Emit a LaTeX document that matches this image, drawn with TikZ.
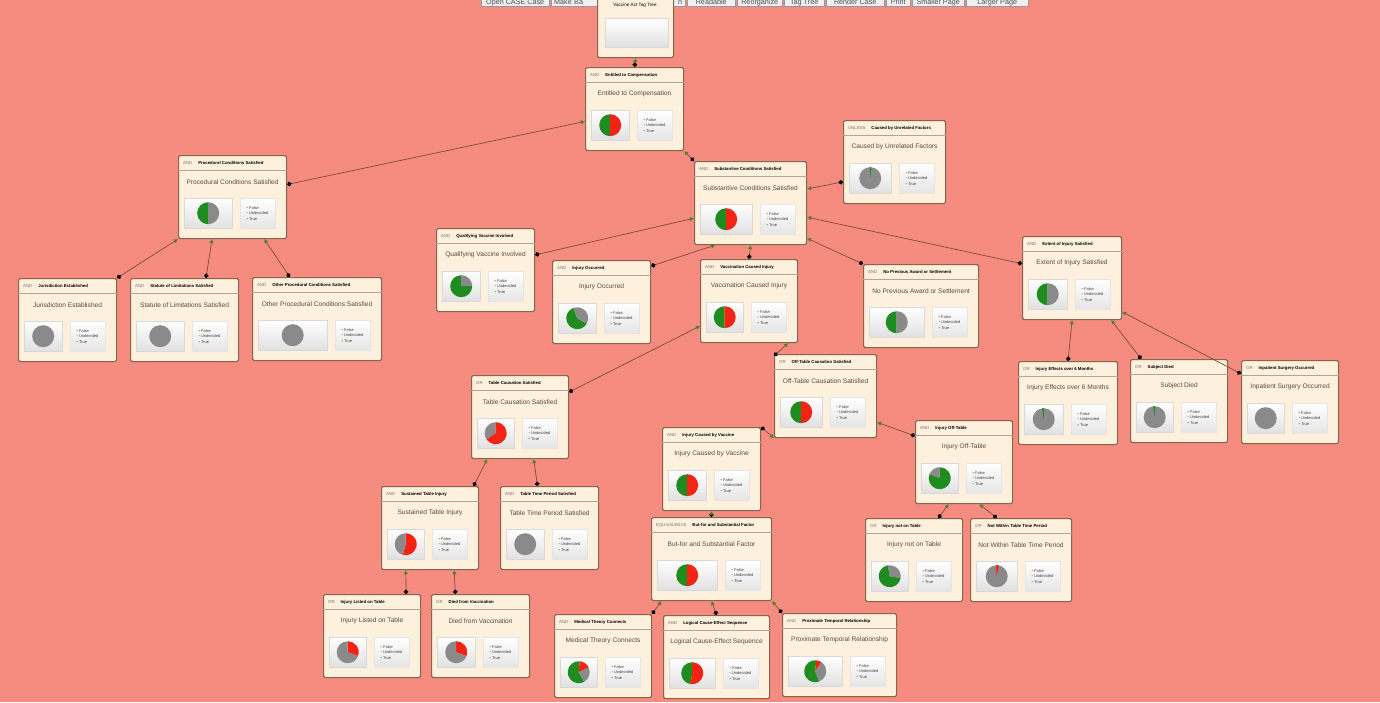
\documentclass[tikz,border=0pt]{standalone}
\usepackage{fontspec}
\setmainfont{Liberation Sans}
\usetikzlibrary{arrows.meta}

\definecolor{canvas}{RGB}{246,139,127}
\definecolor{boxfill}{RGB}{253,240,220}
\definecolor{boxline}{RGB}{135,100,75}
\definecolor{linkline}{RGB}{125,75,60}
\definecolor{truegreen}{RGB}{30,140,30}
\definecolor{falsered}{RGB}{245,35,20}
\definecolor{undecgray}{RGB}{138,138,138}
\definecolor{titlegray}{RGB}{85,75,65}
\definecolor{kindgray}{RGB}{120,110,100}
\definecolor{markgreen}{RGB}{70,130,40}

\tikzset{
  tagbox/.style={draw=boxline,line width=1.1pt,fill=boxfill,rounded corners=1.5pt,
    minimum height=83pt,anchor=north west,inner sep=0pt},
  sepline/.style={draw=boxline!60,line width=0.5pt},
  headtext/.style={anchor=west,inner sep=0pt,text=black,font=\fontsize{4.3}{5}\selectfont},
  titletext/.style={inner sep=0pt,text=titlegray,font=\fontsize{6.6}{8}\selectfont},
  piebox/.style={anchor=north west,draw=black!15,top color=white,bottom color=black!12,
    minimum height=30pt,inner sep=0pt},
  legendbox/.style={anchor=north east,draw=black!10,top color=white,bottom color=black!10,
    minimum width=35pt,minimum height=30pt,inner sep=0pt,align=left,
    font=\fontsize{4}{5.5}\selectfont,text=black!75},
  menubtn/.style={anchor=west,draw=black!40,fill=black!6,minimum height=12pt,inner sep=0pt,
    text height=8pt,text depth=0pt,font=\fontsize{7.2}{8}\selectfont,text=black!70},
  link/.style={draw=linkline,line width=0.7pt,
    {Circle[black,length=4.5pt]}-{Latex[markgreen,length=4pt,width=4.5pt]}}
}

% one box of the tag tree: name, left, top, width, kind, title, pie slices
\newcommand{\tagnode}[7]{%
  \node[tagbox,minimum width=#4pt] (#1) at (#2,#3) {};
  \draw[sepline] ([shift={(0,15)}]#1.north west) -- ([shift={(0,15)}]#1.north east);
  \node[headtext] (#1-head) at ([shift={(5,8)}]#1.north west)
    {{\color{kindgray}#5}\hspace{6pt}\textbf{#6}};
  \node[titletext] (#1-title) at ([shift={(0,27)}]#1.north) {#6};
  \node[piebox,minimum width=#4pt-60pt] (#1-pie) at ([shift={(6,43)}]#1.north west) {};
  \foreach \c/\a/\b in {#7}
    \fill[\c] (#1-pie.center) -- ++(\a:11pt) arc[start angle=\a,end angle=\b,radius=11pt] -- cycle;
  \node[legendbox] (#1-key) at ([shift={(-12,43)}]#1.north east)
    {{\color{falsered}\textbullet} False\\{\color{undecgray}\textbullet} Undecided\\{\color{truegreen}\textbullet} True};
}

\begin{document}
\begin{tikzpicture}[x=1pt,y=-1pt]
\fill[canvas] (0,0) rectangle (1380,702);
\useasboundingbox (0,0) rectangle (1380,702);

% menu bar
\node[menubtn,minimum width=68pt] (open) at (481,0) {Open CASE Case};
\node[menubtn,minimum width=134pt,text width=128pt,align=left] (make) at (551,0) {Make Ba\hfill n};
\node[menubtn,minimum width=48pt] (readable) at (687,0) {Readable};
\node[menubtn,minimum width=45pt] (reorganize) at (737,0) {Reorganize};
\node[menubtn,minimum width=40pt] (tagtree) at (784,0) {Tag Tree};
\node[menubtn,minimum width=58pt] (render) at (826,0) {Render Case};
\node[menubtn,minimum width=24pt] (print) at (886,0) {Print};
\node[menubtn,minimum width=52pt] (smaller) at (912,0) {Smaller Page};
\node[menubtn,minimum width=62pt] (larger) at (966,0) {Larger Page};

% tree window
\node[tagbox,minimum width=76pt,minimum height=60pt] (tree) at (597,-3) {};
\node[headtext,anchor=center,font=\fontsize{4.6}{5}\selectfont] (tree-head) at (635,5) {Vaccine Act Tag Tree};
\node[piebox,minimum width=63pt,minimum height=29pt] (tree-view) at (605,18) {};

\tagnode{entitled}{585}{67}{98}{AND}{Entitled to Compensation}{truegreen/90/270,falsered/-90/90}
\tagnode{procedural}{178}{155}{108}{AND}{Procedural Conditions Satisfied}{truegreen/90/270,undecgray/-90/90}
\tagnode{substantive}{694}{161}{112}{AND}{Substantive Conditions Satisfied}{truegreen/90/270,falsered/-90/90}
\tagnode{unrelated}{843}{120}{102}{UNLESS}{Caused by Unrelated Factors}{undecgray/0/360,truegreen/84/92}
\tagnode{qualifying}{436}{228}{98}{AND}{Qualifying Vaccine Involved}{truegreen/90/360,undecgray/0/90}
\tagnode{occurred}{552}{260}{98}{AND}{Injury Occurred}{truegreen/110/330,undecgray/-30/110}
\tagnode{caused}{700}{259}{97}{AND}{Vaccination Caused Injury}{truegreen/90/270,falsered/-90/90}
\tagnode{noaward}{863}{264}{115}{AND}{No Previous Award or Settlement}{truegreen/90/270,undecgray/-90/90}
\tagnode{extent}{1022}{236}{99}{AND}{Extent of Injury Satisfied}{truegreen/90/270,undecgray/-90/90}
\tagnode{jurisdiction}{18}{278}{98}{AND}{Jurisdiction Established}{undecgray/0/360}
\tagnode{statute}{130}{278}{108}{AND}{Statute of Limitations Satisfied}{undecgray/0/360}
\tagnode{otherproc}{252}{277}{129}{AND}{Other Procedural Conditions Satisfied}{undecgray/0/360}
\tagnode{offtable}{774}{354}{102}{OR}{Off-Table Causation Satisfied}{truegreen/90/270,falsered/-90/90}
\tagnode{tablecaus}{471}{375}{97}{OR}{Table Causation Satisfied}{undecgray/90/215,falsered/-145/90}
\tagnode{sixmonths}{1018}{361}{99}{OR}{Injury Effects over 6 Months}{undecgray/0/360,truegreen/88/98}
\tagnode{died}{1130}{359}{97}{OR}{Subject Died}{undecgray/0/360,truegreen/88/98}
\tagnode{surgery}{1241}{360}{97}{OR}{Inpatient Surgery Occurred}{undecgray/0/360}
\tagnode{byvaccine}{662}{427}{98}{AND}{Injury Caused by Vaccine}{truegreen/90/270,falsered/-90/90}
\tagnode{injoff}{915}{420}{97}{AND}{Injury Off-Table}{undecgray/90/160,truegreen/160/450}
\tagnode{sustained}{381}{486}{97}{AND}{Sustained Table Injury}{falsered/-105/90,undecgray/90/255}
\tagnode{timeperiod}{500}{486}{98}{AND}{Table Time Period Satisfied}{undecgray/0/360}
\tagnode{butfor}{651}{517}{120}{EQUIVALENCE}{But-for and Substantial Factor}{truegreen/90/270,falsered/-90/90}
\tagnode{notontable}{865}{518}{97}{OR}{Injury not on Table}{undecgray/-10/100,truegreen/100/350}
\tagnode{notwithin}{970}{518}{101}{OR}{Not Within Table Time Period}{undecgray/0/360,falsered/78/94}
\tagnode{listed}{323}{594}{97}{OR}{Injury Listed on Table}{falsered/-20/90,undecgray/90/340}
\tagnode{diedvacc}{431}{594}{98}{OR}{Died from Vaccination}{falsered/-20/90,undecgray/90/340}
\tagnode{theory}{554}{614}{97}{AND}{Medical Theory Connects}{truegreen/85/300,falsered/25/85,undecgray/-60/25}
\tagnode{sequence}{663}{615}{106}{AND}{Logical Cause-Effect Sequence}{truegreen/90/260,falsered/-100/90}
\tagnode{proximate}{782}{613}{114}{AND}{Proximate Temporal Relationship}{truegreen/85/290,falsered/55/85,undecgray/-70/55}

% links, child to parent
\draw[link] (entitled.north) -- (tree.south);
\draw[link] (procedural.13) -- (entitled.194);
\draw[link] (substantive.north west) -- (entitled.south east);
\draw[link] (unrelated.201) -- (substantive.14);
\draw[link] (qualifying.17) -- (substantive.195);
\draw[link] (occurred.36) -- (substantive.230);
\draw[link] (caused.north) -- (substantive.south);
\draw[link] (noaward.north west) -- (substantive.-32);
\draw[link] (extent.164) -- (substantive.-14);
\draw[link] (jurisdiction.north east) -- (procedural.south west);
\draw[link] (statute.63) -- (procedural.244);
\draw[link] (otherproc.123) -- (procedural.-53);
\draw[link] (tablecaus.27) -- (caused.207);
\draw[link] (offtable.142) -- (caused.-47);
\draw[link] (sixmonths.north) -- (extent.south);
\draw[link] (died.132) -- (extent.-47);
\draw[link] (surgery.150) -- (extent.-34);
\draw[link] (byvaccine.north east) -- (offtable.south west);
\draw[link] (injoff.152) -- (offtable.-27);
\draw[link] (sustained.44) -- (tablecaus.232);
\draw[link] (timeperiod.106) -- (tablecaus.-72);
\draw[link] (butfor.north) -- (byvaccine.south);
\draw[link] (notontable.60) -- (injoff.250);
\draw[link] (notwithin.120) -- (injoff.-70);
\draw[link] (listed.51) -- (sustained.240);
\draw[link] (diedvacc.121) -- (sustained.-60);
\draw[link] (theory.north east) -- (butfor.220);
\draw[link] (sequence.north) -- (butfor.south);
\draw[link] (proximate.north west) -- (butfor.south east);
\end{tikzpicture}
\end{document}
